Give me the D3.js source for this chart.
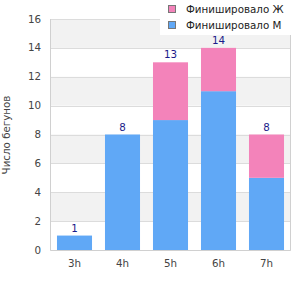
<!DOCTYPE html>
<html><head><meta charset="utf-8">
<script src="https://cdn.jsdelivr.net/npm/d3@7"></script>
<style>body{margin:0;background:#fff}svg{display:block}</style>
</head><body>
<svg id="c" width="300" height="300"></svg>
<script>
const categories = ["3h","4h","5h","6h","7h"];
const male = [1,8,9,11,5];
const female = [0,0,4,3,3];
const yTicks = [0,2,4,6,8,10,12,14,16];
const seriesNames = ["Финишировало Ж","Финишировало М"];
const colors = {m:"#60a8f6", f:"#f383ba"};

const svg = d3.select("#c");
const font = "DejaVu Sans, sans-serif";
const fs = 10.3;
const L=50.5, R=290.5, T=19, B=250;
const x = d3.scaleBand().domain(categories).range([L,R]).paddingInner(0.27).paddingOuter(0.135);
const y = d3.scaleLinear().domain([0,16]).range([B,T]);

// alternating bands
for(let i=0;i<yTicks.length-1;i++){
  if(i%2===1){
    svg.append("rect").attr("x",L).attr("width",R-L)
      .attr("y",y(yTicks[i+1])).attr("height",y(yTicks[i])-y(yTicks[i+1]))
      .attr("fill","#f2f2f2");
  }
}
// gridlines
svg.append("g").selectAll("line").data(yTicks).join("line")
  .attr("x1",L).attr("x2",R).attr("y1",d=>Math.round(y(d))+0.5).attr("y2",d=>Math.round(y(d))+0.5)
  .attr("stroke","#dcdcdc");
// borders
svg.append("line").attr("x1",L).attr("x2",L).attr("y1",T).attr("y2",B+0.5).attr("stroke","#d0d0d0");
svg.append("line").attr("x1",R).attr("x2",R).attr("y1",T).attr("y2",B+0.5).attr("stroke","#d0d0d0");
svg.append("line").attr("x1",L).attr("x2",R).attr("y1",B+0.5).attr("y2",B+0.5).attr("stroke","#d0d0d0");

// bars
const g = svg.append("g");
categories.forEach((c,i)=>{
  g.append("rect").attr("x",x(c)).attr("width",x.bandwidth())
    .attr("y",y(male[i])).attr("height",y(0)-y(male[i])).attr("fill",colors.m);
  if(female[i]>0){
    g.append("rect").attr("x",x(c)).attr("width",x.bandwidth())
      .attr("y",y(male[i]+female[i])).attr("height",y(male[i])-y(male[i]+female[i])).attr("fill",colors.f);
  }
  g.append("text").attr("x",x(c)+x.bandwidth()/2).attr("y",y(male[i]+female[i])-4)
    .attr("text-anchor","middle").attr("font-family",font).attr("font-size",fs)
    .attr("fill","#1a1a8a").text(male[i]+female[i]);
});

// y axis labels
svg.append("g").selectAll("text").data(yTicks).join("text")
  .attr("x",41).attr("y",d=>y(d)).attr("dy","0.35em").attr("text-anchor","end")
  .attr("font-family",font).attr("font-size",fs).attr("fill","#444").text(d=>d);
// x axis labels
svg.append("g").selectAll("text").data(categories).join("text")
  .attr("x",d=>x(d)+x.bandwidth()/2).attr("y",267).attr("text-anchor","middle")
  .attr("font-family",font).attr("font-size",fs).attr("fill","#444").text(d=>d);
// y title
svg.append("text").attr("transform","translate(9.5,135) rotate(-90)").attr("text-anchor","middle")
  .attr("font-family",font).attr("font-size",fs).attr("fill","#444").text("Число бегунов");

// legend
svg.append("rect").attr("x",160).attr("y",0).attr("width",140).attr("height",35).attr("fill","#fff");
const legColors=[colors.f,colors.m];
seriesNames.forEach((n,i)=>{
  svg.append("rect").attr("x",168.5).attr("y",5.5+i*16).attr("width",7).attr("height",7)
    .attr("fill",legColors[i]).attr("stroke","#777");
  svg.append("text").attr("x",186).attr("y",9+i*16).attr("dy","0.35em")
    .attr("font-family",font).attr("font-size",fs).attr("fill","#222").text(n);
});
</script>
</body></html>
